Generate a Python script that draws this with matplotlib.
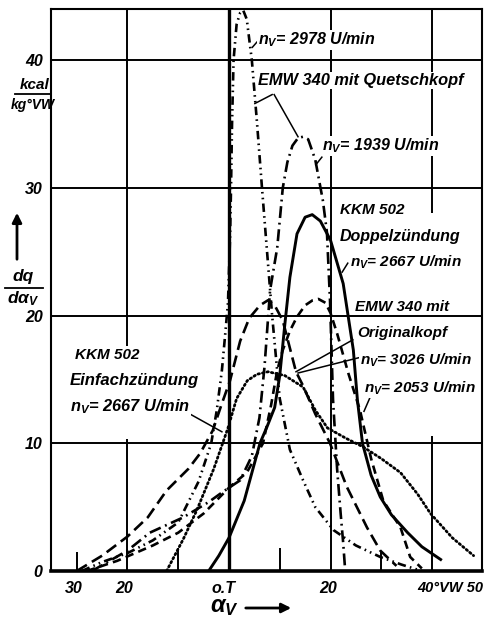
import matplotlib
matplotlib.use("Agg")
import matplotlib.pyplot as plt
from matplotlib.lines import Line2D

# ---------------- data (crank angle in deg, relative to TDC; heat release kcal/kg°VW) ----------
# EMW 340 mit Quetschkopf, n_V = 2978 U/min
a_x = [-29, -25, -20, -15, -10, -6, -3.5, -2.4, -1.4, -0.8, -0.2, 0.2, 0.4, 0.6, 0.9, 1.5, 2.2, 2.8,
       3.5, 4.5, 5.5, 6.5, 7.5, 8.5, 10, 12, 14.6, 17, 20.6, 25, 29.8, 34, 38]
a_y = [0, 0.7, 1.4, 2.4, 3.8, 7.0, 10.0, 12.6, 15.7, 18.3, 21, 26, 30, 35, 40, 42.8, 43.7, 43.9,
       43.2, 40, 35.2, 30, 25, 20, 13.5, 9.5, 7.1, 5.0, 3.2, 2.0, 1.1, 0.5, 0]
# EMW 340 mit Quetschkopf, n_V = 1939 U/min
b_x = [-27, -20, -15.6, -9, -4, -1.2, 2.2, 4.5, 6, 7, 8.1, 9.5, 10.6, 11.5, 12.5, 13.6, 14.6, 15.6,
       17, 18.5, 19.3, 19.9, 20.5, 21.3, 22, 22.5, 22.9]
b_y = [0, 1.6, 3.0, 4.2, 5.4, 6.2, 7.1, 9, 12, 16, 22, 25.3, 30, 32, 33.3, 33.9, 34, 33.8,
       32.2, 29, 26.5, 21.2, 13.4, 8, 4.5, 2.2, 0]
# KKM 502 Doppelzuendung, n_V = 2667 U/min
c_x = [-4, -2, 0, 3, 6.1, 7.5, 9, 10, 11, 12, 13.4, 15, 16.4, 18, 20, 22.5, 24.5, 25.3, 26.3, 28,
       29.8, 32, 35.2, 38, 41.7]
c_y = [0, 1.2, 2.6, 5.5, 10, 11.3, 12.8, 15.3, 19.3, 23, 26.4, 27.7, 27.9, 27.4, 25.9, 22.5, 17.3,
       13.4, 10, 7.5, 5.8, 4.4, 3.0, 1.9, 0.9]
# KKM 502 Einfachzuendung, n_V = 2667 U/min
e_x = [-12.3, -9, -6.3, -3, -0.2, 1.5, 3.6, 5.5, 7.7, 11, 14.6, 17, 19.4, 23, 26.5, 30, 33.8,
       37.2, 39.7, 44, 48.2]
e_y = [0, 2.5, 4.8, 8, 11.2, 13.5, 14.9, 15.4, 15.6, 15.3, 14.4, 12.6, 11.2, 10.4, 9.7, 8.8, 7.7,
       6.0, 4.5, 2.6, 1.2]
# EMW 340 mit Originalkopf, n_V = 3026 U/min
d1_x = [-30, -25, -20, -16, -12.3, -8, -5.7, -3.2, -1.5, 0.2, 2.2, 4, 6.1, 7.7, 9, 10.6, 13.2,
        14.6, 17, 19.9, 23.2, 27.2, 29.8, 33]
d1_y = [0, 1.2, 2.7, 4.2, 6.3, 8, 9.2, 11, 13, 14.9, 18, 19.8, 20.8, 21.2, 20.8, 19.6, 15.6,
        14.5, 12.3, 10, 6.6, 3.4, 1.6, 0.4]
# EMW 340 mit Originalkopf, n_V = 2053 U/min
d2_x = [-28, -22, -15, -10, -5, 0.2, 3.5, 6.7, 8.3, 9.5, 10.6, 12, 13.4, 15, 16.5, 17.6, 19, 20,
        21.3, 23.5, 25.8, 28, 30.4, 33.8, 35.7, 38]
d2_y = [0, 0.8, 2.0, 3.0, 4.5, 6.6, 7.7, 10, 13, 15.7, 17.3, 18.8, 19.9, 20.8, 21.2, 21.3, 21.0,
        20.2, 18.6, 15.5, 12.6, 8.8, 5.5, 3.4, 1.1, 0.2]

x_tick_pos = [-30.5, -20.7, -1, 19.5, 43.6]
x_tick_labels = ["30", "20", "o.T", "20", "40°VW 50"]
y_ticks = [0, 10, 20, 30, 40]
y_tick_labels = ["0", "10", "20", "30", "40"]

# ---------------- styling ----------------
FONT = ["Liberation Sans Narrow", "Liberation Sans", "DejaVu Sans"]
plt.rcParams["font.family"] = FONT
plt.rcParams["font.style"] = "italic"
plt.rcParams["font.weight"] = "bold"
plt.rcParams["mathtext.fontset"] = "custom"
plt.rcParams["mathtext.it"] = "Liberation Sans:italic:bold"
plt.rcParams["mathtext.rm"] = "Liberation Sans:italic:bold"
plt.rcParams["mathtext.bf"] = "Liberation Sans:italic:bold"

W, H = 484, 620
fig = plt.figure(figsize=(W / 100, H / 100), dpi=100)
fig.patch.set_facecolor("white")
ax = fig.add_axes([51 / W, 1 - 571 / H, (482 - 51) / W, (571 - 9) / H])
ax.set_xlim(-35.07, 49.85)
ax.set_ylim(0, 44)

for s in ["top", "right", "left"]:
    ax.spines[s].set_linewidth(1.5)
ax.spines["bottom"].set_linewidth(2.6)

# grid
gkw = dict(color="black", lw=1.4, zorder=1)
for yv in [10, 20, 30, 40]:
    ax.axhline(yv, **gkw)
ax.vlines(0, 0, 44, color="black", lw=2.4, zorder=1)
ax.vlines(-20, 0, 10.3, **gkw)
ax.vlines(-20, 17.6, 44, **gkw)
ax.vlines(20, 0, 44, **gkw)
ax.vlines(40, 0, 10.6, **gkw)
ax.vlines(40, 28.0, 44, **gkw)
# short ticks on the base line
ax.vlines([-30, 30], 0, 1.45, color="black", lw=1.4)
ax.vlines([-10, 10], 0, 1.8, color="black", lw=1.4)

ax.set_xticks(x_tick_pos)
ax.set_xticklabels(x_tick_labels, fontsize=11.5)
ax.get_xticklabels()[-1].set_fontsize(10.5)
ax.set_yticks(y_ticks)
ax.set_yticklabels(y_tick_labels, fontsize=11.5)
ax.tick_params(length=0, pad=6)
ax.tick_params(axis="x", pad=7)

lw = 1.9
ax.plot(a_x, a_y, color="black", lw=lw, ls=(0, (3.2, 1.6, 0.6, 1.6, 0.6, 1.6)), zorder=3)
ax.plot(b_x, b_y, color="black", lw=lw, ls=(0, (4.5, 1.8, 0.7, 1.8)), zorder=3)
ax.plot(c_x, c_y, color="black", lw=2.1, ls="-", zorder=3)
ax.plot(e_x, e_y, color="black", lw=2.0, ls=(0, (0.55, 1.1)), zorder=3, dash_capstyle="round")
ax.plot(d1_x, d1_y, color="black", lw=lw, ls=(0, (4.5, 2.2)), zorder=3)
ax.plot(d2_x, d2_y, color="black", lw=lw, ls=(0, (3.2, 2.0)), zorder=3)

# labels
tkw = dict(fontsize=11, ha="left", va="center", zorder=5,
           bbox=dict(facecolor="white", edgecolor="none", pad=0.5))
ax.text(5.7, 41.6, r"$n_V$= 2978 U/min", **dict(tkw, fontsize=11.5))
ax.text(5.7, 38.4, "EMW 340 mit Quetschkopf", **dict(tkw, fontsize=11.8))
ax.text(18.3, 33.3, r"$n_V$= 1939 U/min", **dict(tkw, fontsize=11.5))
ax.text(21.9, 28.3, "KKM 502", **tkw)
ax.text(21.9, 26.2, "Doppelzündung", **dict(tkw, fontsize=11.5))
ax.text(23.8, 24.2, r"$n_V$= 2667 U/min", **tkw)
ax.text(24.8, 20.7, "EMW 340 mit", **tkw)
ax.text(25.2, 18.6, "Originalkopf", **tkw)
ax.text(25.8, 16.5, r"$n_V$= 3026 U/min", **tkw)
ax.text(26.6, 14.3, r"$n_V$= 2053 U/min", **tkw)
ax.text(-30.3, 16.9, "KKM 502", **tkw)
ax.text(-31.3, 14.9, "Einfachzündung", **dict(tkw, fontsize=12))
ax.text(-31.3, 12.9, r"$n_V$= 2667 U/min", **dict(tkw, fontsize=11.8))

# leader lines
lkw = dict(color="black", lw=1.1, zorder=4)
leaders = [
    ([5.7, 4.6], [41.5, 41.0]),
    ([8.5, 5.1], [37.3, 36.6]),
    ([8.9, 13.6], [37.3, 34.0]),
    ([18.3, 17.1], [32.4, 31.8]),
    ([23.4, 22.3], [24.1, 23.4]),
    ([24.4, 13.2], [18.1, 15.6]),
    ([25.6, 13.6], [16.7, 15.5]),
    ([27.8, 26.6], [13.6, 12.5]),
    ([-9.1, -1.4], [12.6, 10.9]),
]
for lx, ly in leaders:
    ax.add_line(Line2D(lx, ly, **lkw))

# y-axis label
def fx(px):
    return px / W

def fy(py):
    return 1 - py / H

fig.text(fx(35), fy(85), "kcal", fontsize=11, ha="center", va="center")
fig.add_artist(Line2D([fx(15), fx(50)], [fy(94), fy(94)], color="black", lw=1.3))
fig.text(fx(33), fy(105), "kg°VW", fontsize=10, ha="center", va="center")
fig.text(fx(23), fy(277), "dq", fontsize=12.5, ha="center", va="center")
fig.add_artist(Line2D([fx(5), fx(43)], [fy(288), fy(288)], color="black", lw=1.3))
fig.text(fx(23), fy(299), r"d$\alpha_V$", fontsize=12.5, ha="center", va="center")
fig.add_artist(matplotlib.patches.FancyArrowPatch((fx(17), fy(262)), (fx(17), fy(210)),
                                                  transform=fig.transFigure, arrowstyle="-|>",
                                                  mutation_scale=14, lw=2, color="black"))

# x-axis label
fig.text(fx(224), fy(607), r"$\alpha_V$", fontsize=17, ha="center", va="center")
fig.add_artist(matplotlib.patches.FancyArrowPatch((fx(243), fy(608)), (fx(294), fy(608)),
                                                  transform=fig.transFigure, arrowstyle="-|>",
                                                  mutation_scale=14, lw=2, color="black"))

fig.savefig("out.png", dpi=100, facecolor="white")
